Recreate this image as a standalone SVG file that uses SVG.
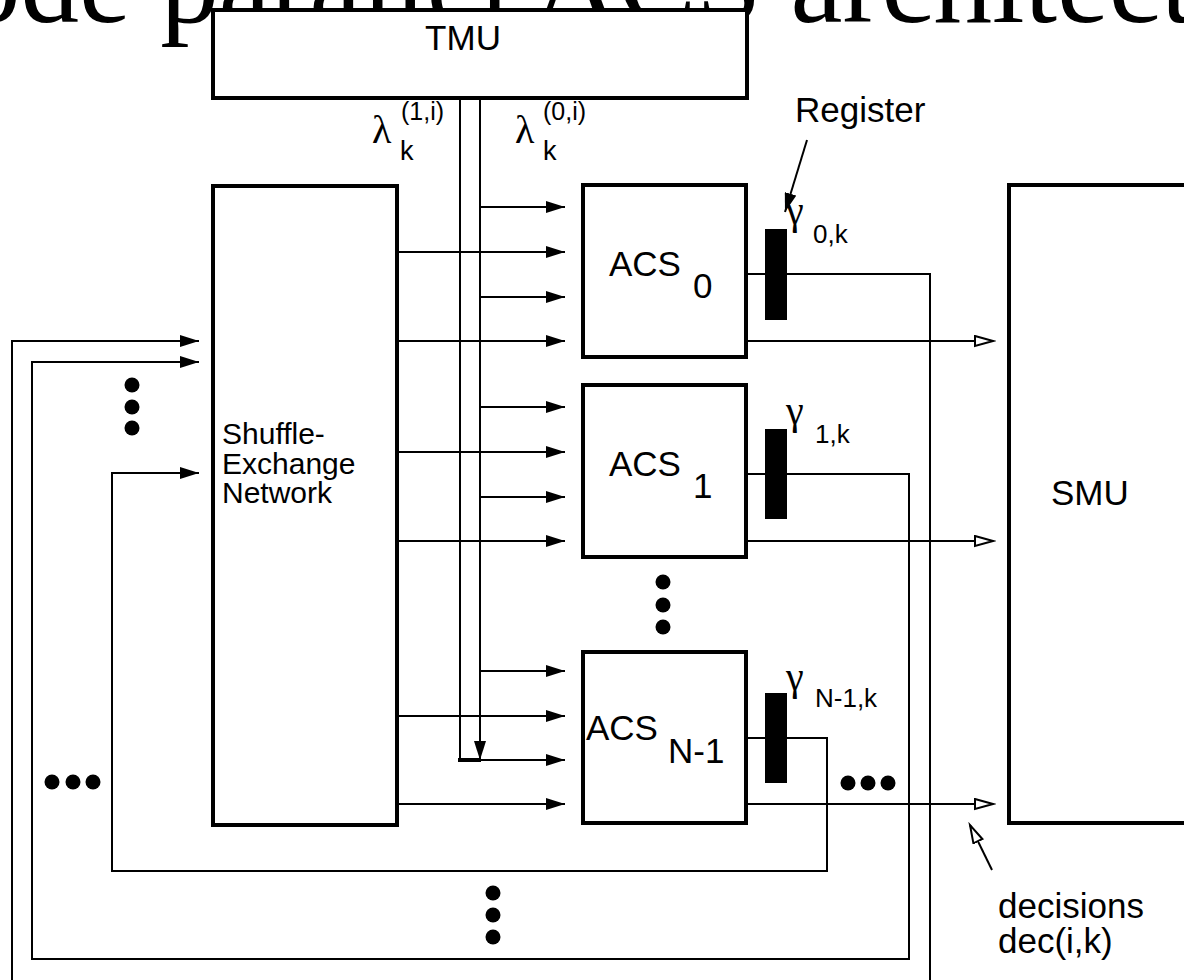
<svg xmlns="http://www.w3.org/2000/svg" width="1184" height="980" viewBox="0 0 1184 980">
<style>
.box{fill:#fff;stroke:#000;stroke-width:4}
.ln{fill:none;stroke:#000;stroke-width:2}
.t{font-family:"Liberation Sans",Arial,sans-serif;fill:#000}
.g{font-family:"Liberation Serif","Times New Roman",serif;fill:#000}
.title{font-family:"Liberation Serif","Times New Roman",serif;font-size:117px;fill:#000}
.reg{fill:#000}
.dot{fill:#000}
</style>
<defs>
<marker id="af" markerUnits="userSpaceOnUse" markerWidth="20" markerHeight="12" refX="19" refY="6" orient="auto">
<path d="M0,0 L19,6 L0,12 z" fill="#000"/>
</marker>
<marker id="ao" markerUnits="userSpaceOnUse" markerWidth="22" markerHeight="14" refX="19" refY="6" orient="auto">
<path d="M1,1 L19,6 L1,11 z" fill="#fff" stroke="#000" stroke-width="2"/>
</marker>
</defs>
<text class="title" x="-38" y="22">ode parallel ACS architect</text>
<g id="connectors">
<path class="ln" d="M460,98 V760"/>
<path class="ln" d="M480,98 V760" marker-end="url(#af)"/>
<path d="M458,760 H481" stroke="#000" stroke-width="4" fill="none"/>
<path class="ln" d="M480,207 H565" marker-end="url(#af)"/>
<path class="ln" d="M480,297 H565" marker-end="url(#af)"/>
<path class="ln" d="M480,407 H565" marker-end="url(#af)"/>
<path class="ln" d="M480,497 H565" marker-end="url(#af)"/>
<path class="ln" d="M480,671 H565" marker-end="url(#af)"/>
<path class="ln" d="M480,760 H565" marker-end="url(#af)"/>
<path class="ln" d="M397,252 H565" marker-end="url(#af)"/>
<path class="ln" d="M397,341 H565" marker-end="url(#af)"/>
<path class="ln" d="M397,452 H565" marker-end="url(#af)"/>
<path class="ln" d="M397,541 H565" marker-end="url(#af)"/>
<path class="ln" d="M397,716 H565" marker-end="url(#af)"/>
<path class="ln" d="M397,804 H565" marker-end="url(#af)"/>
<path class="ln" d="M746,341 H993" marker-end="url(#ao)"/>
<path class="ln" d="M746,541 H993" marker-end="url(#ao)"/>
<path class="ln" d="M746,804 H993" marker-end="url(#ao)"/>
<path class="ln" d="M746,274 H930 V995 H12 V341 H199" marker-end="url(#af)"/>
<path class="ln" d="M746,474 H909 V959 H32 V362 H199" marker-end="url(#af)"/>
<path class="ln" d="M746,738 H827 V871 H112 V473 H199" marker-end="url(#af)"/>
<path class="ln" d="M807,140 L785,212" marker-end="url(#af)"/>
<path class="ln" d="M992,870 L970,825" marker-end="url(#ao)"/>
</g>
<g id="tmu">
<rect class="box" x="213" y="10" width="534" height="88"/>
<text class="t" x="463" y="50" font-size="35" text-anchor="middle">TMU</text>
</g>
<g id="lambda-labels">
<text class="g" x="372" y="143" font-size="40">λ</text>
<text class="t" x="400" y="160" font-size="27">k</text>
<text class="t" x="401" y="120" font-size="25">(1,i)</text>
<text class="g" x="515" y="143" font-size="40">λ</text>
<text class="t" x="543" y="160" font-size="27">k</text>
<text class="t" x="543" y="120" font-size="25">(0,i)</text>
</g>
<g id="shuffle">
<rect class="box" x="213" y="186" width="184" height="639"/>
<text class="t" x="222" y="444" font-size="30">Shuffle-</text>
<text class="t" x="222" y="474" font-size="30">Exchange</text>
<text class="t" x="222" y="503" font-size="30">Network</text>
</g>
<g id="acs0">
<rect class="box" x="583" y="185" width="163" height="172"/>
<text class="t" x="609" y="276" font-size="35">ACS</text>
<text class="t" x="693" y="298" font-size="35">0</text>
</g>
<g id="acs1">
<rect class="box" x="583" y="385" width="163" height="172"/>
<text class="t" x="609" y="476" font-size="35">ACS</text>
<text class="t" x="693" y="498" font-size="35">1</text>
</g>
<g id="acsN1">
<rect class="box" x="583" y="652" width="163" height="171"/>
<text class="t" x="586" y="740" font-size="35">ACS</text>
<text class="t" x="668" y="763" font-size="35">N-1</text>
</g>
<g id="smu">
<rect class="box" x="1009" y="185" width="190" height="638"/>
<text class="t" x="1051" y="505" font-size="35">SMU</text>
</g>
<g id="registers">
<rect class="reg" x="765" y="229" width="22" height="91"/>
<rect class="reg" x="765" y="429" width="22" height="90"/>
<rect class="reg" x="765" y="693" width="22" height="90"/>
<text class="g" x="786" y="224" font-size="40">γ</text>
<text class="t" x="813" y="243" font-size="26">0,k</text>
<text class="g" x="786" y="424" font-size="40">γ</text>
<text class="t" x="815" y="443" font-size="26">1,k</text>
<text class="g" x="786" y="690" font-size="40">γ</text>
<text class="t" x="815" y="707" font-size="26">N-1,k</text>
<text class="t" x="795" y="122" font-size="35">Register</text>
</g>
<g id="decisions">
<text class="t" x="998" y="918" font-size="35">decisions</text>
<text class="t" x="998" y="953" font-size="35">dec(i,k)</text>
</g>
<g id="dots">
<circle class="dot" cx="132" cy="385" r="7.5"/>
<circle class="dot" cx="132" cy="407" r="7.5"/>
<circle class="dot" cx="132" cy="428" r="7.5"/>
<circle class="dot" cx="52" cy="782" r="7.5"/>
<circle class="dot" cx="73" cy="782" r="7.5"/>
<circle class="dot" cx="93" cy="782" r="7.5"/>
<circle class="dot" cx="663" cy="582" r="7.5"/>
<circle class="dot" cx="663" cy="605" r="7.5"/>
<circle class="dot" cx="663" cy="627" r="7.5"/>
<circle class="dot" cx="848" cy="783" r="7.5"/>
<circle class="dot" cx="868" cy="783" r="7.5"/>
<circle class="dot" cx="888" cy="783" r="7.5"/>
<circle class="dot" cx="493" cy="893" r="7.5"/>
<circle class="dot" cx="493" cy="915" r="7.5"/>
<circle class="dot" cx="493" cy="937" r="7.5"/>
</g>
</svg>
